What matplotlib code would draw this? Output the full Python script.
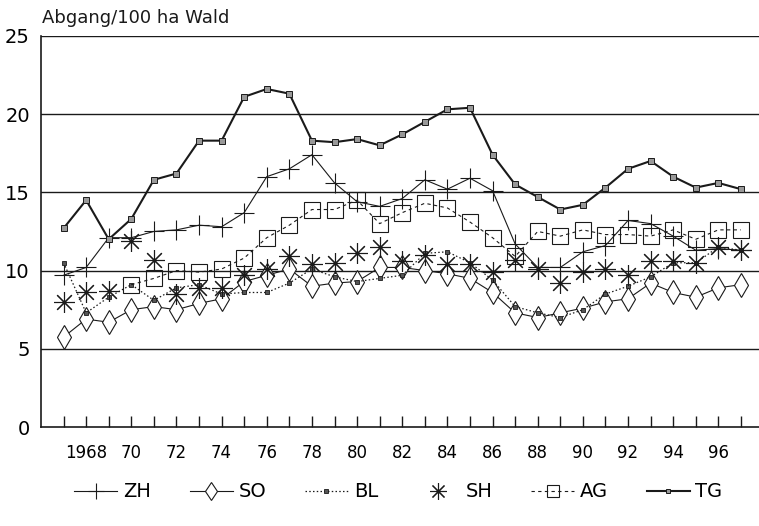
import matplotlib
matplotlib.use("Agg")
import matplotlib.pyplot as plt
import numpy as np

plt.rcParams['font.family'] = ['DejaVu Sans']

years = list(range(1967, 1998))

ZH = [9.7, 10.2, 12.1, 12.1, 12.5, 12.6, 12.9, 12.8, 13.7, 16.0, 16.5,
      17.4, 15.6, 14.4, 14.1, 14.6, 15.8, 15.2, 15.9, 15.1, 11.7, 10.2,
      10.2, 11.2, 11.6, 13.2, 13.0, 12.2, 11.3, 11.4, 11.3]
SO = [5.75, 6.9, 6.7, 7.5, 7.7, 7.5, 7.9, 8.2, 9.3, 9.7, 10.1,
      9.0, 9.2, 9.3, 10.2, 10.2, 10.0, 9.8, 9.5, 8.6, 7.3, 7.0,
      7.3, 7.6, 8.0, 8.2, 9.2, 8.6, 8.3, 8.9, 9.1]
BL = [10.5, 7.3, 8.3, 9.1, 8.1, 8.9, 9.1, 8.5, 8.6, 8.6, 9.2,
      10.1, 9.6, 9.3, 9.5, 9.7, 11.1, 11.2, 10.5, 9.4, 7.7, 7.3,
      7.0, 7.5, 8.5, 9.0, 9.6, 10.5, 10.5, 11.5, 11.3]
SH = [8.0, 8.6, 8.7, 11.9, 10.7, 8.5, 8.9, 8.9, 9.7, 10.1, 10.9,
      10.4, 10.5, 11.1, 11.5, 10.6, 11.0, 10.4, 10.4, 9.9, 10.7, 10.1,
      9.2, 9.9, 10.1, 9.7, 10.6, 10.6, 10.5, 11.5, 11.3]
AG = [np.nan, np.nan, np.nan, 9.1, 9.5, 10.0, 9.9, 10.1, 10.8, 12.1, 12.9,
      13.9, 13.9, 14.5, 13.0, 13.7, 14.3, 14.0, 13.1, 12.1, 10.9, 12.5,
      12.2, 12.6, 12.3, 12.3, 12.2, 12.6, 12.0, 12.6, 12.6]
TG = [12.7, 14.5, 12.0, 13.3, 15.8, 16.2, 18.3, 18.3, 21.1, 21.6, 21.3,
      18.3, 18.2, 18.4, 18.0, 18.7, 19.5, 20.3, 20.4, 17.4, 15.5, 14.7,
      13.9, 14.2, 15.3, 16.5, 17.0, 16.0, 15.3, 15.6, 15.2]

xtick_years = list(range(1968, 1997, 2))
xtick_labels = ["1968"] + [str(y % 100) for y in xtick_years[1:]]
yticks = [0, 5, 10, 15, 20, 25]

ink = '#1a1a1a'
fig = plt.figure(figsize=(7.59, 5.26), dpi=100)
ax = fig.add_axes([0.054, 0.188, 0.946, 0.744])

for v in yticks[1:]:
    ax.axhline(v, color=ink, lw=1.0, zorder=1)

ax.plot(years, ZH, color=ink, lw=0.8, marker='+', ms=15, mew=0.8, label='ZH', zorder=3)
ax.plot(years, SO, color=ink, lw=0.8, marker='d', ms=12, mew=0.8, mfc='white', label='SO', zorder=3)
ax.plot(years, BL, color=ink, lw=0.9, ls=(0, (1.2, 1.8)), marker='s', ms=3.5, mew=0.6, mfc='#555', label='BL', zorder=3)
ax.plot(years, SH, color=ink, lw=0, marker=(8, 2, 0), ms=15, mew=0.8, label='SH', zorder=3)
ax.plot(years, AG, color=ink, lw=0.8, ls=(0, (3, 3)), marker='s', ms=11, mew=0.8, mfc='none', label='AG', zorder=3)
ax.plot(years, TG, color=ink, lw=1.5, marker='s', ms=4, mew=0.7, mfc='#999', label='TG', zorder=4)

ax.set_xlim(1966, 1997.8)
ax.set_ylim(0, 25)
ax.set_yticks(yticks)
ax.set_yticklabels([str(v) for v in yticks], fontsize=14)
ax.set_xticks(years, minor=True)
ax.set_xticks(xtick_years)
ax.set_xticklabels(xtick_labels, fontsize=12)
ax.tick_params(axis='x', which='both', direction='in', length=8, width=1, pad=12, color=ink)
ax.tick_params(axis='y', length=0, pad=8)

for s in ['top', 'right']:
    ax.spines[s].set_visible(False)
for s in ['left', 'bottom']:
    ax.spines[s].set_color(ink)
    ax.spines[s].set_linewidth(1.2)

fig.text(0.055, 0.965, 'Abgang/100 ha Wald', fontsize=13, ha='left', va='center', color=ink)

fig.legend(loc='center', bbox_to_anchor=(0.525, 0.065), ncol=6, frameon=False,
           fontsize=14, handlelength=2.2, columnspacing=2.0, handletextpad=0.3,
           markerscale=0.8)

fig.savefig('out.png', dpi=100)
